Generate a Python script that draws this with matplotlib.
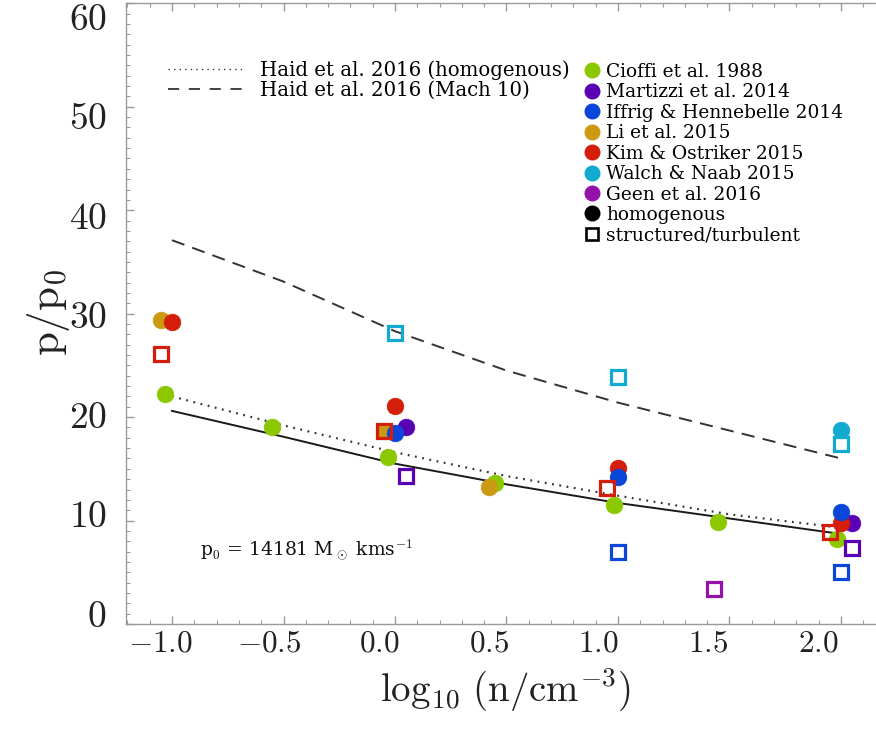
import matplotlib
matplotlib.use("Agg")
import matplotlib.pyplot as plt
from matplotlib.lines import Line2D
from matplotlib.ticker import MultipleLocator

plt.rcParams['mathtext.fontset'] = 'cm'
plt.rcParams['lines.scale_dashes'] = False

# ---------------- data ----------------
line_x = [-1.0, -0.5, 0.0, 0.5, 1.0, 1.5, 2.0]
solid_y = [20.6, 18.1, 15.5, 13.5, 11.7, 10.2, 8.7]
haid_homog_y = [22.0, 19.2, 16.6, 14.3, 12.4, 10.6, 9.3]
haid_mach10_y = [37.1, 33.1, 28.3, 24.5, 21.4, 18.7, 16.0]

studies = ['Cioffi et al. 1988', 'Martizzi et al. 2014', 'Iffrig & Hennebelle 2014',
           'Li et al. 2015', 'Kim & Ostriker 2015', 'Walch & Naab 2015', 'Geen et al. 2016']
colors = ['#8cc800', '#5a00b4', '#0a46d8', '#cc9a12', '#d41e0a', '#12aad0', '#9412aa']

# homogenous (filled circles)
hom_x = [
    [-1.03, -0.55, -0.03, 0.45, 0.98, 1.45, 1.98],   # Cioffi
    [0.05, 2.05],                                    # Martizzi
    [0.0, 1.0, 2.0],                                 # Iffrig
    [-1.05, -0.05, 0.42],                            # Li
    [-1.0, 0.0, 1.0, 2.0],                           # Kim & Ostriker
    [2.0],                                           # Walch & Naab
    [],                                              # Geen
]
hom_y = [
    [22.2, 19.0, 16.1, 13.6, 11.5, 9.9, 8.2],
    [19.05, 9.8],
    [18.5, 14.2, 10.8],
    [29.4, 18.7, 13.25],
    [29.2, 21.1, 15.1, 9.8],
    [18.8],
    [],
]
# structured / turbulent (open squares)
str_x = [
    [],
    [0.05, 2.05],
    [1.0, 2.0],
    [],
    [-1.05, -0.05, 0.95, 1.95],
    [0.0, 1.0, 2.0],
    [1.43],
]
str_y = [
    [],
    [14.3, 7.35],
    [6.95, 5.0],
    [],
    [26.1, 18.7, 13.1, 8.9],
    [28.15, 23.9, 17.4],
    [3.4],
]
# stacking order of the studies in the reference (Iffrig drawn above Kim & Ostriker)
draw_order = [0, 1, 3, 4, 2, 5, 6]

xticks = [-1.0, -0.5, 0.0, 0.5, 1.0, 1.5, 2.0]
xticklabels = [r'$-1.0$', r'$-0.5$', r'$0.0$', r'$0.5$', r'$1.0$', r'$1.5$', r'$2.0$']
yticks = [0, 10, 20, 30, 40, 50, 60]
yticklabels = [r'$%d$' % v for v in yticks]

# ---------------- figure ----------------
W, H = 876, 736
fig = plt.figure(figsize=(W / 100, H / 100), dpi=100)
pos = [126 / W, (H - 624) / H, (W - 126) / W, (624 - 3.3) / H]
ax = fig.add_axes(pos)
ax.set_xlim(-1.2063, 2.157)
ax.set_ylim(0, 60)

spine_col = '#9a9a9a'
for s in ['left', 'bottom', 'top']:
    ax.spines[s].set_color(spine_col)
    ax.spines[s].set_linewidth(1.0)
ax.spines['right'].set_visible(False)
ax.xaxis.set_major_locator(MultipleLocator(0.5))
ax.xaxis.set_minor_locator(MultipleLocator(0.1))
ax.yaxis.set_major_locator(MultipleLocator(10))
ax.yaxis.set_minor_locator(MultipleLocator(1))
ax.tick_params(which='both', direction='in', color=spine_col, top=True, right=False,
               labelbottom=False, labelleft=False)
ax.tick_params(which='major', length=6, width=1.0)
ax.tick_params(which='minor', length=3, width=0.8)

# lines
ax.plot(line_x, solid_y, color='#1a1a1a', lw=1.4, zorder=2)
ax.plot(line_x, haid_homog_y, color='#333333', lw=1.6, dashes=(1.3, 4.0), zorder=2)
ax.plot(line_x, haid_mach10_y, color='#333333', lw=1.4, dashes=(9.5, 6.0), zorder=2)

# markers: filled circles first, open squares on top
for k, i in enumerate(draw_order):
    c = colors[i]
    if hom_x[i]:
        ax.plot(hom_x[i], hom_y[i], 'o', ms=12, color=c, mec=c, mew=0.5, ls='none',
                zorder=3 + 0.1 * k)
    if str_x[i]:
        ax.plot(str_x[i], str_y[i], 's', ms=9.6, mfc='none', mec=c, mew=2.3, ls='none',
                zorder=4 + 0.1 * k)

ax.text(-0.874, 7.15, r'p$_0$ = 14181 M$_\odot$ kms$^{-1}$', family='DejaVu Serif',
        fontsize=13.5, ha='left', va='center', color='#111111')

# legends
lfont1 = dict(family='DejaVu Serif', size=14.2)
lfont2 = dict(family='DejaVu Serif', size=13.4)
h1 = [Line2D([], [], color='#333333', lw=1.0, dashes=(1.0, 3.0)),
      Line2D([], [], color='#333333', lw=1.3, dashes=(8.0, 7.0))]
leg1 = ax.legend(h1, ['Haid et al. 2016 (homogenous)', 'Haid et al. 2016 (Mach 10)'],
                 prop=lfont1, frameon=False, loc='upper left',
                 bbox_to_anchor=(168 / W, 1 - 60 / H), bbox_transform=fig.transFigure,
                 borderpad=0, borderaxespad=0, handlelength=3.9, handletextpad=0.75,
                 labelspacing=0.04)
ax.add_artist(leg1)

h2 = [Line2D([], [], marker='o', ls='none', ms=10.5, color=c) for c in colors]
h2.append(Line2D([], [], marker='o', ls='none', ms=10.5, color='black'))
h2.append(Line2D([], [], marker='s', ls='none', ms=8.5, mfc='none', mec='black', mew=1.9))
leg2 = ax.legend(h2, studies + ['homogenous', 'structured/turbulent'],
                 prop=lfont2, frameon=False, loc='upper left',
                 bbox_to_anchor=(586 / W, 1 - 63 / H), bbox_transform=fig.transFigure,
                 borderpad=0, borderaxespad=0, handlelength=0.65, handletextpad=0.42,
                 labelspacing=0.13)

# tick labels (placed as in the reference, slightly offset from the ticks)
axl = fig.add_axes(pos, frameon=False)
axl.set_xlim(-1.155, 2.2645)
axl.set_ylim(-1.105, 61.23)
axl.set_xticks(xticks)
axl.set_xticklabels(xticklabels, fontsize=22.5)
axl.set_yticks(yticks)
axl.set_yticklabels(yticklabels, fontsize=27)
axl.tick_params(length=0, colors='#222222')
axl.tick_params(axis='x', pad=3)
axl.tick_params(axis='y', pad=14)
axl.patch.set_visible(False)

fig.text(505 / W, 1 - 690 / H, r'$\mathrm{log_{10}\ (n/cm^{-3})}$', fontsize=28,
         ha='center', va='center', color='#222222')
fig.text(48 / W, 1 - 312 / H, r'$\mathrm{p/p_0}$', fontsize=31, rotation=90,
         ha='center', va='center', color='#222222')

fig.savefig('out.png', dpi=100)
